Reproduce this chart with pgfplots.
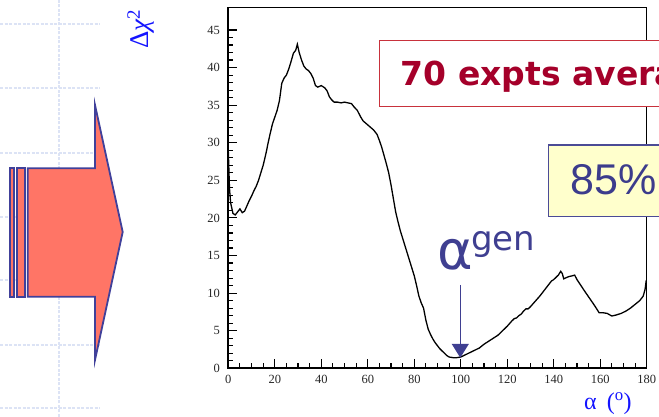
\documentclass[border=0pt]{standalone}
\usepackage{fontspec}
\setmainfont{Liberation Serif}
\newfontfamily\djsans{DejaVu Sans}
\newfontfamily\libsans{Liberation Sans}
\usepackage{pgfplots}
\pgfplotsset{compat=1.18}
\usetikzlibrary{arrows.meta}

\definecolor{gridc}{HTML}{DCE3F5}
\definecolor{arrowfill}{HTML}{FF7566}
\definecolor{arrowline}{HTML}{40409A}
\definecolor{boxred}{HTML}{C8323C}
\definecolor{txtred}{HTML}{A5002A}
\definecolor{boxblue}{HTML}{4B4B96}
\definecolor{txtblue}{HTML}{3C3C8C}
\definecolor{noteblue}{HTML}{3F3F91}
\definecolor{labblue}{HTML}{1414FF}
\definecolor{paleyellow}{HTML}{FFFFCC}

\begin{document}
\begin{tikzpicture}[x=1pt,y=1pt]
\useasboundingbox (0,0) rectangle (659,417);

% slide background grid (dashed)
\foreach \yy in {24,88,153,217,280,345,408}
  \draw[gridc, line width=1.5pt, dash pattern=on 3pt off 1.5pt] (0,417-\yy) -- (100,417-\yy);
\draw[gridc, line width=1.5pt, dash pattern=on 3pt off 1.5pt] (59,0) -- (59,417);

% big striped arrow
\filldraw[fill=arrowfill, draw=arrowline, line width=1.8pt] (10.3,248.7) rectangle (14.3,120.3);
\filldraw[fill=arrowfill, draw=arrowline, line width=1.8pt] (17.3,248.7) rectangle (25,120.3);
\filldraw[fill=arrowfill, draw=arrowline, line width=1.8pt]
  (27.7,248.7) -- (95,248.7) -- (95,312) -- (122.7,185) -- (95,57) -- (95,120.3) -- (27.7,120.3) -- cycle;

\begin{axis}[
    at={(228.3pt,48.7pt)}, anchor=south west,
    scale only axis,
    width=418.4pt, height=360.9pt,
    xmin=0, xmax=180, ymin=0, ymax=48,
    xtick={0,20,...,180}, ytick={0,5,...,45},
    minor x tick num=3, minor y tick num=4,
    tick align=inside, tick pos=left,
    major tick length=9pt, minor tick length=5pt,
    tick style={black, line width=1.1pt},
    axis line style={line width=0.8pt},
    tick label style={font=\fontsize{12.5}{12.5}\selectfont, text=black!85,
        /pgf/number format/assume math mode=true},
    yticklabel style={xshift=-5pt},
    xticklabel style={yshift=-3pt},
    clip=false,
]
\addplot[black, line width=1.3pt, mark=none] coordinates {
(0,29.0) (0.5,24.0) (1,22.0) (2,20.6) (3,20.4) (4,20.8) (5,21.2) (6,20.7)
(7,20.9) (8,21.6) (9,22.3) (10,22.9) (11,23.6) (12,24.2) (13,25.0) (14,26.0)
(15,27.0) (16,28.3) (16.5,29.0) (17,29.8) (18,31.2) (19,32.5) (20,33.4)
(21,34.3) (22,35.6) (23,37.9) (24,38.6) (25,39.0) (26,39.8) (27,40.8)
(28,41.9) (29,42.3) (29.7,43.1) (30.5,42.0) (31.5,41.0) (32.5,40.2)
(33.5,39.8) (34.5,39.6) (35.5,39.2) (36.5,38.6) (37.5,37.6) (38.5,37.4)
(40,37.6) (41.5,37.3) (42.5,36.9) (43.5,36.1) (44.5,35.7) (45.5,35.4)
(47,35.4) (48.5,35.3) (50,35.4) (51.5,35.3) (53,35.2) (54,34.8) (55.5,34.3)
(57,33.4) (58,32.9) (59.5,32.5) (61,32.1) (62.5,31.7) (64,31.1) (65,30.3)
(66,29.4) (67,28.3) (68,27.2) (69,26.0) (70,24.4) (71,22.6) (72,20.8)
(73,19.5) (74,18.3) (75,17.3) (76,16.3) (77,15.3) (78,14.3) (79,13.3)
(80,12.3) (81,11.0) (82,9.6) (83,8.7) (84,8.0) (85,6.4) (86,5.2) (87,4.5)
(88,3.9) (89,3.4) (90,3.0) (91,2.6) (92,2.3) (93,2.0) (94,1.7) (95,1.5)
(96,1.45) (97,1.4) (98,1.4) (99,1.45) (100,1.5) (101,1.65) (102,1.8)
(104,2.1) (106,2.4) (108,2.7) (110,3.2) (112,3.6) (114,4.0) (116,4.4)
(118,5.0) (120,5.6) (122,6.3) (123,6.6) (124,6.7) (125,7.0) (126,7.2)
(127,7.6) (128,7.9) (129,7.9) (130,8.2) (132,8.9) (134,9.6) (136,10.4)
(138,11.2) (139,11.6) (140,11.8) (141,12.1) (142,12.4) (143,12.9)
(143.7,12.6) (144.3,11.9) (145,12.0) (146.5,12.2) (148,12.3) (149,12.4)
(150,11.8) (151.5,11.1) (153,10.4) (155,9.5) (157,8.6) (158.5,7.9)
(159.5,7.4) (161,7.4) (163,7.3) (165,6.95) (167,7.1) (169,7.3) (171,7.6)
(173,8.0) (175,8.5) (177,9.0) (178.5,9.6) (179.3,10.5) (179.8,11.7)
};
% thicker left and bottom axis lines
\draw[black, line width=1.8pt] (rel axis cs:0,1) -- (rel axis cs:0,0) -- (rel axis cs:1,0);
% alpha_gen arrow
\draw[noteblue, line width=1.5pt, -{Triangle[width=17pt,length=14pt]}]
  (axis cs:99.8,11.1) -- (axis cs:99.8,1.4);
\end{axis}

% axis labels
\node[rotate=90, text=labblue, inner sep=0, font=\fontsize{27}{27}\selectfont]
  at (141,388) {Δ\textit{χ}\textsuperscript{2}};
\node[anchor=base west, text=labblue, inner sep=0, font=\fontsize{24}{24}\selectfont]
  at (584,7) {α\, (\textsuperscript{o})};

% alpha gen label
\node[anchor=base west, text=noteblue, inner sep=0, font=\djsans\fontsize{54}{54}\selectfont]
  at (437,147) {α};
\node[anchor=base west, text=noteblue, inner sep=0, font=\djsans\fontsize{34}{34}\selectfont]
  at (471,166) {gen};

% boxes
\filldraw[fill=white, draw=boxred, line width=1.5pt] (379.3,376.3) rectangle (720,310.3);
\node[anchor=base west, text=txtred, inner sep=0, font=\djsans\bfseries\fontsize{33}{33}\selectfont]
  at (400.7,331) {70 expts average};
\filldraw[fill=paleyellow, draw=boxblue, line width=1.5pt] (548.3,272) rectangle (720,200.3);
\node[anchor=base west, text=txtblue, inner sep=0, font=\libsans\fontsize{43}{43}\selectfont]
  at (570,222) {85\%};
\end{tikzpicture}
\end{document}
